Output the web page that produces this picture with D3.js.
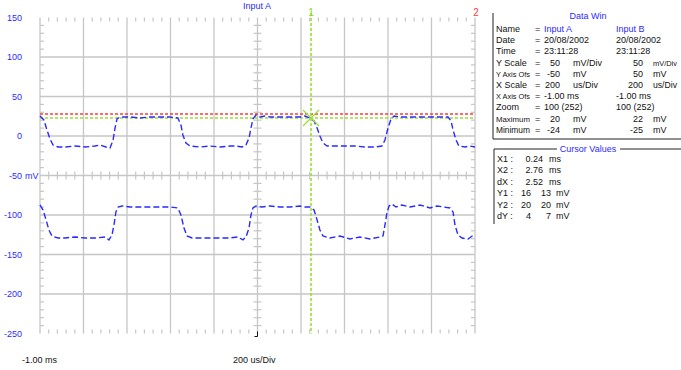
<!DOCTYPE html>
<html>
<head>
<meta charset="utf-8">
<script src="https://cdn.jsdelivr.net/npm/d3@7"></script>
<style>
  html, body { margin: 0; padding: 0; background: #fff; }
  svg { display: block; font-family: "Liberation Sans", Arial, sans-serif; }
</style>
</head>
<body>
<svg id="scope" width="681" height="370"></svg>
<script>
// time in ms, value in mV (as drawn on the screen)
const inputA = [
  [-1.000, 25.3], [-0.982, 20.3], [-0.968, 7.6], [-0.954, -3.8], [-0.940, -11.4], [-0.917, -13.9],
  [-0.885, -13.9], [-0.839, -12.7], [-0.793, -13.9], [-0.747, -12.7], [-0.724, -11.4], [-0.697, -13.9],
  [-0.678, -15.2], [-0.664, -5.1], [-0.655, 10.1], [-0.646, 21.5], [-0.632, 24.1], [-0.586, 24.1],
  [-0.540, 22.8], [-0.494, 24.1], [-0.448, 24.1], [-0.402, 24.1], [-0.366, 22.8], [-0.352, 13.9],
  [-0.343, 1.3], [-0.329, -8.9], [-0.310, -12.7], [-0.264, -13.9], [-0.218, -12.7], [-0.172, -13.9],
  [-0.126, -12.7], [-0.099, -12.7], [-0.071, -13.9], [-0.053, -11.4], [-0.039, -2.5], [-0.030, 10.1],
  [-0.021, 21.5], [-0.007, 26.6], [0.011, 24.1], [0.034, 25.3], [0.057, 24.1], [0.103, 24.1],
  [0.149, 24.1], [0.195, 24.1], [0.218, 25.3], [0.241, 22.8], [0.260, 19.0], [0.274, 10.1],
  [0.287, 0.0], [0.301, -8.9], [0.320, -12.7], [0.356, -12.7], [0.402, -12.7], [0.448, -12.7],
  [0.494, -13.9], [0.540, -13.9], [0.572, -12.7], [0.586, -5.1], [0.600, 10.1], [0.614, 21.5],
  [0.628, 25.3], [0.655, 24.1], [0.701, 24.1], [0.747, 24.1], [0.793, 24.1], [0.839, 24.1],
  [0.876, 24.1], [0.890, 19.0], [0.899, 7.6], [0.913, -5.1], [0.926, -12.7], [0.954, -13.9],
  [0.977, -12.7], [1.000, -13.9]
];
const inputB = [
  [-1.000, -87.3], [-0.986, -93.7], [-0.972, -106.3], [-0.959, -119.0], [-0.945, -126.6], [-0.917, -129.1],
  [-0.885, -129.1], [-0.839, -127.8], [-0.793, -129.1], [-0.747, -129.1], [-0.701, -127.8], [-0.683, -131.6],
  [-0.669, -125.3], [-0.660, -112.7], [-0.651, -96.2], [-0.641, -89.9], [-0.623, -88.6], [-0.586, -89.9],
  [-0.540, -89.9], [-0.494, -89.9], [-0.448, -89.9], [-0.402, -89.9], [-0.366, -91.1], [-0.352, -100.0],
  [-0.338, -116.5], [-0.324, -126.6], [-0.301, -129.1], [-0.264, -129.1], [-0.218, -129.1], [-0.172, -129.1],
  [-0.126, -129.1], [-0.090, -127.8], [-0.067, -131.6], [-0.053, -127.8], [-0.039, -116.5], [-0.030, -100.0],
  [-0.021, -91.1], [-0.007, -88.6], [0.021, -89.9], [0.057, -88.6], [0.103, -89.9], [0.149, -89.9],
  [0.195, -88.6], [0.218, -89.9], [0.241, -89.9], [0.260, -93.7], [0.274, -106.3], [0.287, -119.0],
  [0.301, -126.6], [0.333, -129.1], [0.379, -126.6], [0.425, -130.4], [0.471, -127.8], [0.517, -130.4],
  [0.563, -127.8], [0.577, -126.6], [0.586, -112.7], [0.595, -97.5], [0.605, -88.6], [0.618, -86.1],
  [0.637, -89.9], [0.664, -87.3], [0.701, -89.9], [0.747, -87.3], [0.793, -91.1], [0.825, -88.6],
  [0.857, -89.9], [0.885, -91.1], [0.899, -96.2], [0.908, -112.7], [0.922, -125.3], [0.940, -129.1],
  [0.968, -130.4], [1.000, -124.1]
];

const yLabels = [150, 100, 50, 0, -50, -100, -150, -200, -250];
const cursor1Time = 0.246;   // ms, vertical cursor "1"
const cursor1Level = 22.8;   // mV, green horizontal cursor
const cursor2Level = 27.8;   // mV, red horizontal cursor

const dataRows = [
  ["Name", "=", "Input A", "", "Input B", ""],
  ["Date", "=", "20/08/2002", "", "20/08/2002", ""],
  ["Time", "=", "23:11:28", "", "23:11:28", ""],
  ["Y Scale", "=", "50", "mV/Div", "50", "mV/Div"],
  ["Y Axis Ofs", "=", "-50", "mV", "50", "mV"],
  ["X Scale", "=", "200", "us/Div", "200", "us/Div"],
  ["X Axis Ofs", "=", "-1.00 ms", "", "-1.00 ms", ""],
  ["Zoom", "=", "100 (252)", "", "100 (252)", ""],
  ["Maximum", "=", "20", "mV", "22", "mV"],
  ["Minimum", "=", "-24", "mV", "-25", "mV"]
];
const cursorRows = [
  ["X1 :", "0.24", "", "ms"],
  ["X2 :", "2.76", "", "ms"],
  ["dX :", "2.52", "", "ms"],
  ["Y1 :", "16", "13", "mV"],
  ["Y2 :", "20", "20", "mV"],
  ["dY :", "4", "7", "mV"]
];

const svg = d3.select("#scope");
const plotL = 40, plotR = 475, plotT = 17.5, plotB = 333.5;
const x = d3.scaleLinear().domain([-1, 1]).range([plotL, plotR]);
const y = d3.scaleLinear().domain([-250, 150]).range([plotB, plotT]);

const gridColor = "#c6c6c6";
const blue = "#2a2aff";

// shrink the font of a text until it fits in maxW pixels
function fit(sel, maxW) {
  sel.each(function () {
    const w = this.getComputedTextLength();
    if (w > maxW) d3.select(this).attr("font-size", (9 * maxW / w).toFixed(2));
  });
}

// grid
const g = svg.append("g");
const xMajor = d3.range(0, 11).map(i => -1 + i * 0.2);
const yMajor = d3.range(1, 8).map(i => -250 + i * 50);
g.selectAll(".vg").data(xMajor).join("line")
  .attr("x1", d => x(d)).attr("x2", d => x(d))
  .attr("y1", plotT).attr("y2", plotB)
  .attr("stroke", gridColor).attr("stroke-width", 1.3);
g.selectAll(".hg").data(yMajor).join("line")
  .attr("x1", plotL).attr("x2", plotR)
  .attr("y1", d => y(d)).attr("y2", d => y(d))
  .attr("stroke", gridColor).attr("stroke-width", 1.3);

// minor ticks
const xMinor = d3.range(0, 51).filter(i => i % 5).map(i => -1 + i * 0.04);
const yMinor = d3.range(0, 41).filter(i => i % 5).map(i => -250 + i * 10);
const tk = 4;
const ticks = [];
xMinor.forEach(t => {
  ticks.push([x(t), plotT, x(t), plotT + tk]);
  ticks.push([x(t), plotB, x(t), plotB - tk]);
  ticks.push([x(t), y(-50) - tk, x(t), y(-50) + tk]);
});
yMinor.forEach(v => {
  ticks.push([plotL, y(v), plotL + tk, y(v)]);
  ticks.push([plotR, y(v), plotR - tk, y(v)]);
  ticks.push([x(0) - tk, y(v), x(0) + tk, y(v)]);
});
g.selectAll(".tk").data(ticks).join("line")
  .attr("x1", d => d[0]).attr("y1", d => d[1])
  .attr("x2", d => d[2]).attr("y2", d => d[3])
  .attr("stroke", gridColor).attr("stroke-width", 1.2);

// y labels
const yl = svg.append("g").attr("font-size", 9).attr("fill", blue);
yl.selectAll("text").data(yLabels).join("text")
  .attr("x", 22).attr("y", d => y(d)).attr("dy", "0.35em")
  .attr("text-anchor", "end").text(d => d);
yl.append("text").attr("x", 25).attr("y", y(-50)).attr("dy", "0.35em").text("mV");

// title + bottom labels
svg.append("text").attr("x", 257).attr("y", 9).attr("text-anchor", "middle")
  .attr("font-size", 9).attr("fill", blue).text("Input A");
svg.append("text").attr("x", 22).attr("y", 363).attr("font-size", 9).attr("fill", "#111").text("-1.00 ms");
svg.append("text").attr("x", 233).attr("y", 363).attr("font-size", 9).attr("fill", "#111").text("200 us/Div");

// trigger mark
svg.append("path").attr("d", `M${x(0) - 3},${plotB + 3}H${x(0)}V${plotB - 2}`)
  .attr("fill", "none").attr("stroke", "#111").attr("stroke-width", 1);

// horizontal cursors
svg.append("line").attr("x1", plotL).attr("x2", plotR)
  .attr("y1", y(cursor2Level)).attr("y2", y(cursor2Level))
  .attr("stroke", "#ff3b3b").attr("stroke-width", 1.6).attr("stroke-dasharray", "3,2");
svg.append("line").attr("x1", plotL).attr("x2", plotR)
  .attr("y1", y(cursor1Level)).attr("y2", y(cursor1Level))
  .attr("stroke", "#99e033").attr("stroke-width", 1.6).attr("stroke-dasharray", "3,2");

// traces
const line = d3.line().x(d => x(d[0])).y(d => y(d[1]));
[inputA, inputB].forEach(tr => {
  svg.append("path").datum(tr).attr("d", line)
    .attr("fill", "none").attr("stroke", blue).attr("stroke-width", 1.4)
    .attr("stroke-dasharray", "6,3");
});

// vertical cursor 1
const cx = x(cursor1Time), cy = y(cursor1Level);
svg.append("line").attr("x1", cx).attr("x2", cx).attr("y1", 13).attr("y2", plotB)
  .attr("stroke", "#99e033").attr("stroke-width", 1.6).attr("stroke-dasharray", "3,2");
svg.append("path").attr("d", `M${cx - 8},${cy - 8}L${cx + 8},${cy + 8}M${cx - 8},${cy + 8}L${cx + 8},${cy - 8}`)
  .attr("stroke", "#99e033").attr("stroke-width", 1.2);
svg.append("text").attr("x", cx).attr("y", 16).attr("text-anchor", "middle")
  .attr("font-size", 10).attr("fill", "#88d822").text("1");
svg.append("text").attr("x", plotR + 1).attr("y", 16).attr("text-anchor", "middle")
  .attr("font-size", 10).attr("fill", "#ff3b3b").text("2");

// data window panel
const p = svg.append("g").attr("font-size", 9).attr("fill", "#111");
p.append("line").attr("x1", 493).attr("x2", 493).attr("y1", 13).attr("y2", 139).attr("stroke", "#222");
p.append("line").attr("x1", 493).attr("x2", 681).attr("y1", 139).attr("y2", 139).attr("stroke", "#222");
p.append("text").attr("x", 588).attr("y", 19).attr("text-anchor", "middle").attr("fill", blue).text("Data Win");
const rowY = i => 32 + i * 11.2;
const rows = p.selectAll(".row").data(dataRows).join("g");
rows.append("text").attr("x", 496).attr("y", (d, i) => rowY(i)).text(d => d[0]).call(fit, 34);
rows.append("text").attr("x", 535).attr("y", (d, i) => rowY(i)).text(d => d[1]);
rows.append("text").attr("y", (d, i) => rowY(i))
  .attr("x", d => d[3] ? 560 : 544).attr("text-anchor", d => d[3] ? "end" : "start")
  .attr("fill", (d, i) => i === 0 ? blue : "#111").text(d => d[2]);
rows.append("text").attr("x", 573).attr("y", (d, i) => rowY(i)).text(d => d[3]);
rows.append("text").attr("y", (d, i) => rowY(i))
  .attr("x", d => d[5] ? 643 : 616).attr("text-anchor", d => d[5] ? "end" : "start")
  .attr("fill", (d, i) => i === 0 ? blue : "#111").text(d => d[4]);
rows.append("text").attr("x", 653).attr("y", (d, i) => rowY(i)).text(d => d[5]).call(fit, 24);

// cursor values panel
const c = svg.append("g").attr("font-size", 9).attr("fill", "#111");
c.append("line").attr("x1", 494).attr("x2", 494).attr("y1", 149).attr("y2", 224).attr("stroke", "#222");
c.append("line").attr("x1", 494).attr("x2", 557).attr("y1", 149).attr("y2", 149).attr("stroke", "#222");
c.append("line").attr("x1", 620).attr("x2", 681).attr("y1", 149).attr("y2", 149).attr("stroke", "#222");
c.append("text").attr("x", 588).attr("y", 152).attr("text-anchor", "middle").attr("fill", blue).text("Cursor Values");
const cRowY = i => 162 + i * 11.4;
const cr = c.selectAll(".crow").data(cursorRows).join("g");
cr.append("text").attr("x", 497).attr("y", (d, i) => cRowY(i)).text(d => d[0]);
cr.append("text").attr("x", (d) => d[2] ? 531 : 543).attr("y", (d, i) => cRowY(i))
  .attr("text-anchor", "end").text(d => d[1]);
cr.append("text").attr("x", 551).attr("y", (d, i) => cRowY(i)).attr("text-anchor", "end").text(d => d[2]);
cr.append("text").attr("x", d => d[2] ? 556 : 549).attr("y", (d, i) => cRowY(i)).text(d => d[3]);
</script>
</body>
</html>
